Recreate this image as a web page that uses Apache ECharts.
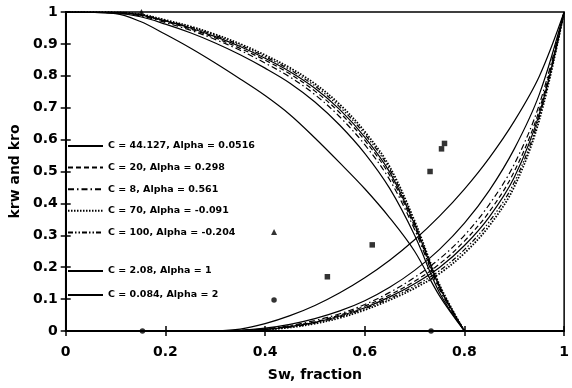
<!DOCTYPE html>
<html>
<head>
<meta charset="utf-8">
<script src="https://cdn.jsdelivr.net/npm/echarts@6/dist/echarts.min.js"></script>
<style>
html,body{margin:0;padding:0;background:#fff;}
#chart{width:572px;height:388px;}
</style>
</head>
<body>
<div id="chart"></div>
<script>
// ---- data ----
const xTicks = [0, 0.2, 0.4, 0.6, 0.8, 1];
const yTicks = [0, 0.1, 0.2, 0.3, 0.4, 0.5, 0.6, 0.7, 0.8, 0.9, 1];

const seriesNames = [
  'C = 44.127, Alpha = 0.0516',
  'C = 20, Alpha = 0.298',
  'C = 8, Alpha = 0.561',
  'C = 70, Alpha = -0.091',
  'C = 100, Alpha = -0.204',
  'C = 2.08, Alpha = 1',
  'C = 0.084, Alpha = 2'
];

// oil relative permeability (kro) vs Sw
const swKro = [0, 0.1, 0.15, 0.2, 0.25, 0.3, 0.35, 0.4, 0.45, 0.5, 0.55, 0.6, 0.65, 0.7, 0.75, 0.8];
const kro_C44  = [1, 0.998, 0.991, 0.972, 0.950, 0.923, 0.892, 0.855, 0.813, 0.761, 0.694, 0.608, 0.498, 0.334, 0.139, 0];
const kro_C20  = [1, 0.998, 0.990, 0.970, 0.947, 0.919, 0.886, 0.849, 0.806, 0.752, 0.684, 0.598, 0.488, 0.327, 0.135, 0];
const kro_C8   = [1, 0.997, 0.988, 0.967, 0.943, 0.914, 0.880, 0.840, 0.796, 0.741, 0.671, 0.584, 0.474, 0.318, 0.130, 0];
const kro_C70  = [1, 0.999, 0.993, 0.975, 0.955, 0.930, 0.900, 0.865, 0.825, 0.775, 0.710, 0.625, 0.515, 0.345, 0.145, 0];
const kro_C100 = [1, 0.999, 0.992, 0.973, 0.953, 0.927, 0.896, 0.860, 0.819, 0.768, 0.702, 0.617, 0.507, 0.340, 0.142, 0];
const kro_C208 = [1, 0.996, 0.985, 0.962, 0.935, 0.903, 0.866, 0.824, 0.777, 0.718, 0.645, 0.557, 0.447, 0.300, 0.120, 0];
const kro_C0084 = [1, 0.995, 0.970, 0.930, 0.887, 0.840, 0.790, 0.738, 0.678, 0.605, 0.527, 0.446, 0.355, 0.250, 0.110, 0];

// water relative permeability (krw) vs Sw
const swKrw = [0.3, 0.35, 0.4, 0.45, 0.5, 0.55, 0.6, 0.65, 0.7, 0.75, 0.8, 0.85, 0.9, 0.95, 1];
const krw_C44  = [0, 0.001, 0.005, 0.014, 0.027, 0.047, 0.073, 0.107, 0.148, 0.199, 0.268, 0.358, 0.482, 0.680, 1];
const krw_C20  = [0, 0.001, 0.006, 0.015, 0.029, 0.050, 0.078, 0.113, 0.156, 0.210, 0.282, 0.374, 0.500, 0.692, 1];
const krw_C8   = [0, 0.002, 0.007, 0.017, 0.033, 0.054, 0.083, 0.121, 0.168, 0.226, 0.300, 0.397, 0.523, 0.709, 1];
const krw_C70  = [0, 0.001, 0.004, 0.011, 0.023, 0.041, 0.066, 0.097, 0.134, 0.180, 0.244, 0.330, 0.452, 0.660, 1];
const krw_C100 = [0, 0.001, 0.005, 0.012, 0.025, 0.044, 0.070, 0.102, 0.141, 0.189, 0.255, 0.343, 0.466, 0.670, 1];
const krw_C208 = [0, 0.002, 0.009, 0.021, 0.039, 0.063, 0.095, 0.137, 0.190, 0.256, 0.338, 0.441, 0.571, 0.741, 1];
const krw_C0084 = [0, 0.006, 0.023, 0.048, 0.080, 0.120, 0.167, 0.222, 0.286, 0.360, 0.445, 0.543, 0.658, 0.798, 1];

// measured points
const ptsCircle = [[0.154, 0], [0.418, 0.097], [0.733, 0]];
const ptsSquare = [[0.525, 0.17], [0.615, 0.27], [0.731, 0.50], [0.754, 0.571], [0.760, 0.588]];
const ptsTriangle = [[0.418, 0.31], [0.152, 1.0]];

// ---- chart ----
const FONT = 'DejaVu Sans';
const kroSets = [kro_C44, kro_C20, kro_C8, kro_C70, kro_C100, kro_C208, kro_C0084];
const krwSets = [krw_C44, krw_C20, krw_C8, krw_C70, krw_C100, krw_C208, krw_C0084];
const styles = [
  {type: 'solid', width: 1.2},
  {type: [5, 3], width: 1.2},
  {type: [6, 3, 1.5, 3], width: 1.2},
  {type: [1.5, 1.5], width: 1.8},
  {type: [5, 2, 1.5, 2, 1.5, 2], width: 1.2},
  {type: 'solid', width: 1.2},
  {type: 'solid', width: 1.2}
];

function pair(xs, ys) { return xs.map((x, i) => [x, ys[i]]); }

const series = [];
seriesNames.forEach((name, k) => {
  const ls = Object.assign({color: '#000'}, styles[k]);
  series.push({
    name: name, type: 'line', data: pair(swKro, kroSets[k]),
    symbol: 'none', smooth: 0.35,
    lineStyle: ls, itemStyle: {color: '#000'}
  });
  series.push({
    name: name, type: 'line', data: pair(swKrw, krwSets[k]),
    symbol: 'none', smooth: 0.35,
    lineStyle: ls, itemStyle: {color: '#000'}
  });
});
series.push({type: 'scatter', name: 'pc', data: ptsCircle, symbol: 'circle', symbolSize: 5.5, itemStyle: {color: '#000'}, z: 5});
series.push({type: 'scatter', name: 'ps', data: ptsSquare, symbol: 'rect', symbolSize: 5.5, itemStyle: {color: '#000'}, z: 5});
series.push({type: 'scatter', name: 'pt', data: ptsTriangle, symbol: 'triangle', symbolSize: 6, itemStyle: {color: '#000'}, z: 5});

const legendCommon = {
  orient: 'vertical', left: 67, itemWidth: 35, itemHeight: 12,
  textStyle: {color: '#000', fontFamily: FONT, fontWeight: 'bold', fontSize: 9.5},
  itemStyle: {opacity: 0},
  selectedMode: false, padding: 0
};

const axisLabelStyle = {color: '#000', fontFamily: FONT, fontWeight: 'bold', fontSize: 14};

const option = {
  animation: false,
  backgroundColor: '#fff',
  grid: {left: 58, right: 4, top: 12, bottom: 57, show: true, borderColor: '#000', borderWidth: 1.5, backgroundColor: 'transparent'},
  legend: [
    Object.assign({}, legendCommon, {top: 141, itemGap: 11.6, data: seriesNames.slice(0, 5)}),
    Object.assign({}, legendCommon, {top: 266, itemGap: 14, data: seriesNames.slice(5)})
  ],
  xAxis: [
    {
      type: 'value', min: xTicks[0], max: xTicks[xTicks.length - 1], interval: xTicks[1] - xTicks[0],
      position: 'bottom',
      axisLine: {show: true, onZero: false, lineStyle: {color: '#000', width: 2}},
      axisTick: {show: true, inside: false, length: 5, lineStyle: {color: '#000', width: 1.5}},
      axisLabel: Object.assign({margin: 14}, axisLabelStyle),
      splitLine: {show: false},
      name: 'Sw, fraction', nameLocation: 'middle', nameGap: 37,
      nameTextStyle: {color: '#000', fontFamily: FONT, fontWeight: 'bold', fontSize: 14}
    },
    {
      type: 'value', min: xTicks[0], max: xTicks[xTicks.length - 1], interval: xTicks[1] - xTicks[0],
      position: 'bottom',
      axisLine: {show: false, onZero: false},
      axisTick: {show: true, inside: true, length: 5, lineStyle: {color: '#000', width: 1.5}},
      axisLabel: {show: false}, splitLine: {show: false}
    }
  ],
  yAxis: [
    {
      type: 'value', min: yTicks[0], max: yTicks[yTicks.length - 1], interval: yTicks[1] - yTicks[0],
      position: 'left',
      axisLine: {show: true, onZero: false, lineStyle: {color: '#000', width: 2}},
      axisTick: {show: true, inside: false, length: 5, lineStyle: {color: '#000', width: 1.5}},
      axisLabel: Object.assign({margin: 8}, axisLabelStyle),
      splitLine: {show: false},
      name: 'krw and kro', nameLocation: 'middle', nameGap: 34,
      nameTextStyle: {color: '#000', fontFamily: FONT, fontWeight: 'bold', fontSize: 14}
    },
    {
      type: 'value', min: yTicks[0], max: yTicks[yTicks.length - 1], interval: yTicks[1] - yTicks[0],
      position: 'left',
      axisLine: {show: false, onZero: false},
      axisTick: {show: true, inside: true, length: 5, lineStyle: {color: '#000', width: 1.5}},
      axisLabel: {show: false}, splitLine: {show: false}
    }
  ],
  series: series
};

const chart = echarts.init(document.getElementById('chart'), null, {renderer: 'canvas'});
chart.setOption(option);
</script>
</body>
</html>
